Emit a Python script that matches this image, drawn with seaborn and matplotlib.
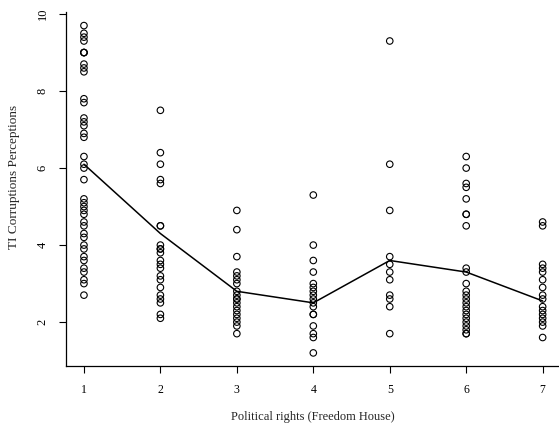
import numpy as np
import pandas as pd
import matplotlib
matplotlib.use("Agg")
import matplotlib.pyplot as plt
import seaborn as sns

# Freedom House political rights score (1 = most free) and TI corruption perceptions
rights_1 = [9.7, 9.5, 9.4, 9.3, 9.0, 9.0, 9.0, 8.7, 8.6, 8.5, 7.8, 7.7, 7.3, 7.2,
            7.1, 6.9, 6.8, 6.3, 6.1, 6.0, 5.7, 5.2, 5.1, 5.0, 4.9, 4.8, 4.6, 4.5,
            4.3, 4.2, 4.0, 3.9, 3.7, 3.6, 3.4, 3.3, 3.1, 3.0, 2.7]
rights_2 = [7.5, 6.4, 6.1, 5.7, 5.6, 4.5, 4.5, 4.0, 3.9, 3.9, 3.8, 3.6, 3.5, 3.4,
            3.2, 3.1, 2.9, 2.7, 2.6, 2.5, 2.2, 2.1]
rights_3 = [4.9, 4.4, 3.7, 3.3, 3.2, 3.1, 3.0, 2.8, 2.7, 2.6, 2.6, 2.5, 2.4, 2.3,
            2.2, 2.1, 2.0, 1.9, 1.7]
rights_4 = [5.3, 4.0, 3.6, 3.3, 3.0, 2.9, 2.8, 2.7, 2.6, 2.5, 2.4, 2.2, 2.2, 1.9,
            1.7, 1.6, 1.2]
rights_5 = [9.3, 6.1, 4.9, 3.7, 3.5, 3.3, 3.1, 2.7, 2.6, 2.4, 1.7]
rights_6 = [6.3, 6.0, 5.6, 5.5, 5.2, 4.8, 4.8, 4.5, 3.4, 3.3, 3.0, 2.8, 2.7, 2.6,
            2.5, 2.4, 2.3, 2.2, 2.1, 2.0, 1.9, 1.8, 1.7, 1.7]
rights_7 = [4.6, 4.5, 3.5, 3.4, 3.3, 3.1, 2.9, 2.7, 2.6, 2.4, 2.3, 2.2, 2.1, 2.0,
            1.9, 1.6]

# Group means joined by the line
rights_levels = [1, 2, 3, 4, 5, 6, 7]
group_means = [6.1, 4.3, 2.8, 2.5, 3.6, 3.3, 2.55]

x_ticks = [1, 2, 3, 4, 5, 6, 7]
y_ticks = [2, 4, 6, 8, 10]

groups = [rights_1, rights_2, rights_3, rights_4, rights_5, rights_6, rights_7]
points = pd.DataFrame({
    "rights": np.concatenate([[lvl] * len(g) for lvl, g in zip(rights_levels, groups)]),
    "cpi": np.concatenate(groups),
})
means = pd.DataFrame({"rights": rights_levels, "cpi": group_means})

sns.set_style("ticks")
plt.rcParams["font.family"] = ["Liberation Serif", "DejaVu Serif"]

W, H = 559, 426
fig = plt.figure(figsize=(W / 100, H / 100), dpi=100)
ax = fig.add_axes([65.6 / W, 60 / H, (561 - 65.6) / W, (366 - 12.5) / H])

sns.scatterplot(data=points, x="rights", y="cpi", ax=ax, marker="o", s=22,
                facecolor="none", edgecolor="black", linewidth=0.8, legend=False)
sns.lineplot(data=means, x="rights", y="cpi", ax=ax, color="black",
             linewidth=1.1, legend=False)

ax.set_xlim(0.76, 7.24)
ax.set_ylim(0.86, 10.04)
ax.set_xticks(x_ticks)
ax.set_yticks(y_ticks)
ax.set_yticklabels([str(v) for v in y_ticks], rotation=90, va="center")
ax.tick_params(axis="both", direction="out", length=5, width=0.8,
               labelsize=8.5, pad=8, colors="black")
ax.tick_params(axis="y", labelsize=9, pad=7)
ax.set_xlabel("Political rights (Freedom House)", fontsize=9, labelpad=11)
ax.set_ylabel("TI Corruptions Perceptions", fontsize=9.5)
ax.yaxis.set_label_coords(-0.092, 0.535)

sns.despine(ax=ax, top=True, right=True)
for side in ("left", "bottom"):
    ax.spines[side].set_linewidth(0.9)
    ax.spines[side].set_color("black")

fig.savefig("out.png", dpi=100)
